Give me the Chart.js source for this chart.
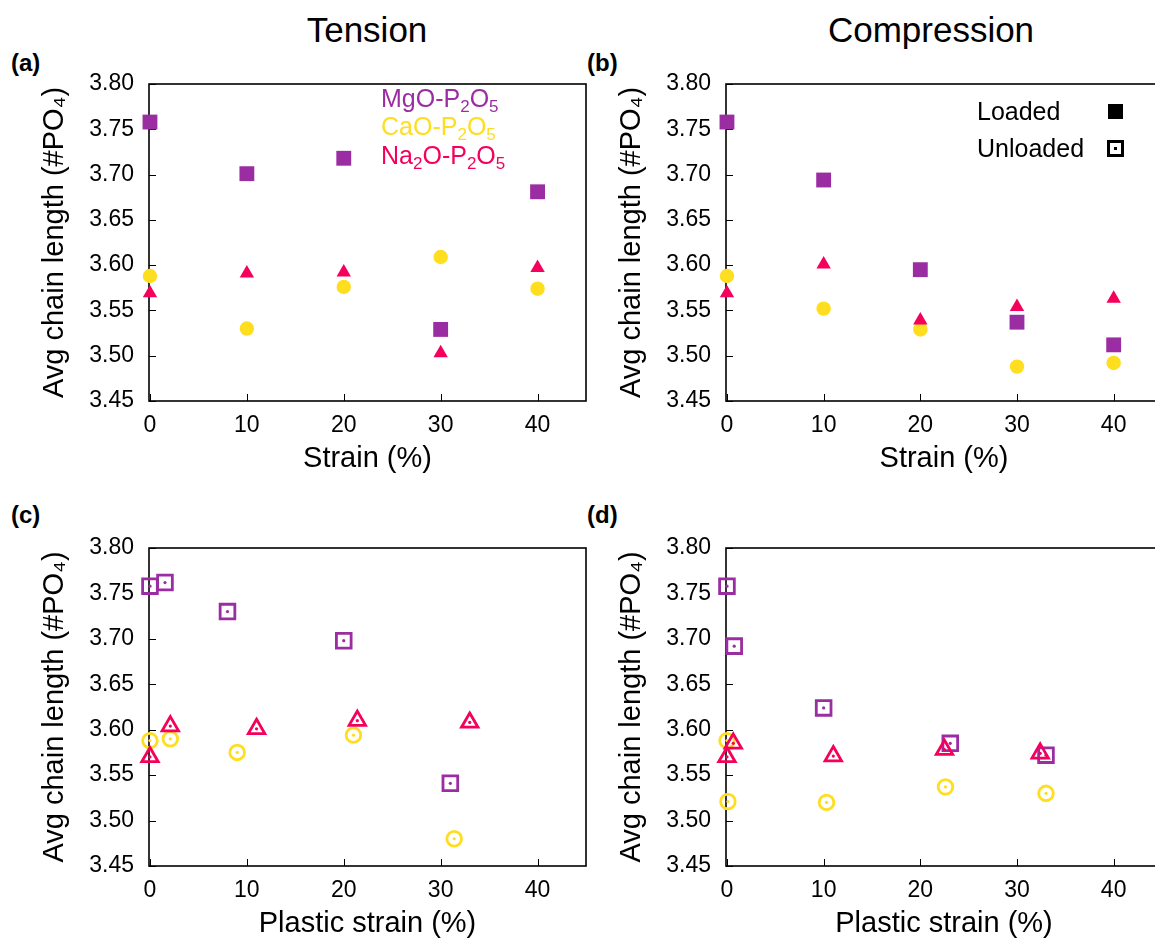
<!DOCTYPE html>
<html>
<head>
<meta charset="utf-8">
<title>Avg chain length - tension / compression</title>
<script src="https://cdn.jsdelivr.net/npm/chart.js@4.4.0/dist/chart.umd.min.js"></script>
<style>
  html, body { margin: 0; padding: 0; background: #fff; overflow: hidden; width: 1155px; height: 940px; }
  body { position: relative; font-family: "Liberation Sans", Arial, Helvetica, sans-serif; color: #000; }
  canvas { position: absolute; }
  .txt { position: absolute; white-space: nowrap; line-height: 1; }
  .txt sub { font-size: 0.68em; vertical-align: baseline; position: relative; top: 0.3em; }
  .head { font-size: 35px; transform: translateX(-50%); }
  .tag { font-size: 24px; font-weight: bold; }
  .leg { font-size: 25px; }
  .key { font-size: 25px; }
  .mark { position: absolute; box-sizing: border-box; }
</style>
</head>
<body>
  <div class="txt head" style="left:367px; top:12px;">Tension</div>
  <div class="txt head" style="left:931px; top:12px;">Compression</div>

  <div class="txt tag" style="left:11px; top:51px;">(a)</div>
  <div class="txt tag" style="left:587px; top:51px;">(b)</div>
  <div class="txt tag" style="left:11px; top:503px;">(c)</div>
  <div class="txt tag" style="left:587px; top:503px;">(d)</div>

  <canvas id="pa" width="600" height="440" style="left:0; top:50px;"></canvas>
  <canvas id="pb" width="600" height="440" style="left:600px; top:50px;"></canvas>
  <canvas id="pc" width="600" height="440" style="left:0; top:510px;"></canvas>
  <canvas id="pd" width="600" height="440" style="left:600px; top:510px;"></canvas>

  <div class="txt leg" style="left:381px; top:86px; color:#9b2da3;">MgO-P<sub>2</sub>O<sub>5</sub></div>
  <div class="txt leg" style="left:381px; top:114px; color:#ffdd1f;">CaO-P<sub>2</sub>O<sub>5</sub></div>
  <div class="txt leg" style="left:381px; top:143px; color:#f5005b;">Na<sub>2</sub>O-P<sub>2</sub>O<sub>5</sub></div>

  <div class="txt key" style="left:977px; top:99px;">Loaded</div>
  <div class="txt key" style="left:977px; top:136px;">Unloaded</div>
  <div class="mark" style="left:1108px; top:104px; width:15px; height:15px; background:#000;"></div>
  <div class="mark" style="left:1107px; top:140px; width:17px; height:17px; border:3px solid #000;"></div>
  <div class="mark" style="left:1114px; top:147px; width:3px; height:3px; background:#000;"></div>

<script>
// axes
const xTicks = [0, 10, 20, 30, 40];
const xTickLabels = ['0', '10', '20', '30', '40'];
const yTicks = [3.45, 3.50, 3.55, 3.60, 3.65, 3.70, 3.75, 3.80];
const yTickLabels = ['3.45', '3.50', '3.55', '3.60', '3.65', '3.70', '3.75', '3.80'];

// loaded: strain (%)
const strain = [0, 10, 20, 30, 40];
const tensMgO = [3.758, 3.701, 3.718, 3.529, 3.681];
const tensCaO = [3.588, 3.530, 3.576, 3.609, 3.574];
const tensNa  = [3.569, 3.591, 3.592, 3.503, 3.597];
const compMgO = [3.758, 3.694, 3.595, 3.537, 3.512];
const compCaO = [3.588, 3.552, 3.529, 3.488, 3.492];
const compNa  = [3.569, 3.601, 3.539, 3.554, 3.563];

// unloaded: plastic strain (%) per series
const tensUnMgOx = [0, 1.55, 8.0, 20.0, 31.0];
const tensUnMgO  = [3.758, 3.762, 3.730, 3.698, 3.541];
const tensUnCaOx = [0, 2.1, 9.0, 21.0, 31.4];
const tensUnCaO  = [3.588, 3.590, 3.575, 3.594, 3.480];
const tensUnNax  = [0, 2.1, 11.0, 21.4, 33.0];
const tensUnNa   = [3.570, 3.604, 3.601, 3.610, 3.608];

const compUnMgOx = [0, 0.75, 10.0, 23.1, 33.0];
const compUnMgO  = [3.758, 3.692, 3.624, 3.585, 3.572];
const compUnCaOx = [0, 0.1, 10.3, 22.6, 33.0];
const compUnCaO  = [3.588, 3.521, 3.520, 3.537, 3.530];
const compUnNax  = [0, 0.65, 11.0, 22.5, 32.4];
const compUnNa   = [3.570, 3.585, 3.571, 3.578, 3.574];

const cMgO = '#9b2da3';
const cCaO = '#ffdd1f';
const cNa  = '#f5005b';

const FONT = '"Liberation Sans", Arial, Helvetica, sans-serif';
Chart.defaults.font.family = FONT;
Chart.defaults.color = '#000';

function pts(xs, ys) {
  return xs.map((x, i) => ({ x: x, y: ys[i] }));
}

function filled(xs, ys, color, style, r) {
  return { data: pts(xs, ys), pointStyle: style, pointRadius: r, pointHoverRadius: r,
           backgroundColor: color, borderWidth: 0, clip: false };
}

function hollow(xs, ys, color, style, r) {
  const d = pts(xs, ys);
  return [
    { data: d, pointStyle: style, pointRadius: r, pointHoverRadius: r,
      backgroundColor: 'rgba(0,0,0,0)', borderColor: color, borderWidth: 2.8, clip: false },
    { data: d, pointStyle: 'circle', pointRadius: 1.6, pointHoverRadius: 1.6,
      backgroundColor: color, borderWidth: 0, clip: false }
  ];
}

// box round the plot plus inward ticks on left and bottom
const frame = {
  id: 'frame',
  beforeDatasetsDraw(chart) {
    const { ctx, chartArea: a, scales: { x, y } } = chart;
    ctx.save();
    ctx.strokeStyle = '#000';
    ctx.lineWidth = 1;
    ctx.beginPath();
    xTicks.forEach(v => {
      const px = Math.round(x.getPixelForValue(v)) + 0.5;
      ctx.moveTo(px, a.bottom);
      ctx.lineTo(px, a.bottom - 7);
    });
    yTicks.forEach(v => {
      const py = Math.round(y.getPixelForValue(v)) + 0.5;
      ctx.moveTo(a.left, py);
      ctx.lineTo(a.left + 7, py);
    });
    ctx.stroke();
    ctx.lineWidth = 1.6;
    ctx.strokeRect(a.left, a.top, a.right - a.left, a.bottom - a.top);
    ctx.restore();
  }
};

function panel(id, area, xTitle, datasets) {
  const cv = document.getElementById(id);
  const cl = cv.offsetLeft, ct = cv.offsetTop, W = cv.width, H = cv.height;
  const titleSize = 29, lh = titleSize * 1.2;
  new Chart(cv, {
    type: 'scatter',
    data: { datasets: datasets },
    options: {
      responsive: false,
      animation: false,
      layout: { padding: { left: 0, top: area.top - ct, right: cl + W - area.right, bottom: 0 } },
      plugins: { legend: { display: false }, tooltip: { enabled: false } },
      events: [],
      scales: {
        x: {
          type: 'linear', min: -0.1, max: 45,
          afterBuildTicks: s => { s.ticks = xTicks.map(v => ({ value: v })); },
          afterFit: s => { s.height = ct + H - area.bottom; },
          grid: { display: false, drawTicks: false },
          border: { display: false },
          ticks: { font: { size: 23 }, padding: 11, maxRotation: 0,
                   callback: (v, i) => xTickLabels[i] },
          title: { display: true, text: xTitle, font: { size: titleSize },
                   padding: { top: 0, bottom: (ct + H) - (area.bottom + 58) - lh / 2 } }
        },
        y: {
          type: 'linear', min: 3.45, max: 3.80,
          afterBuildTicks: s => { s.ticks = yTicks.map(v => ({ value: v })); },
          afterFit: s => { s.width = area.left - cl; },
          grid: { display: false, drawTicks: false },
          border: { display: false },
          ticks: { font: { size: 23 }, padding: 15,
                   callback: (v, i) => yTickLabels[i] },
          title: { display: true, text: 'Avg chain length (#PO\u2084)', font: { size: titleSize },
                   padding: { top: (area.left - 94) - cl - lh / 2, bottom: 0 } }
        }
      }
    },
    plugins: [frame]
  });
}

panel('pa', { left: 149, top: 84, right: 586, bottom: 401 }, 'Strain (%)', [
  filled(strain, tensNa, cNa, 'triangle', 8.3),
  filled(strain, tensMgO, cMgO, 'rect', 10.5),
  filled(strain, tensCaO, cCaO, 'circle', 7.2)
]);

panel('pb', { left: 726, top: 84, right: 1162, bottom: 401 }, 'Strain (%)', [
  filled(strain, compNa, cNa, 'triangle', 8.3),
  filled(strain, compMgO, cMgO, 'rect', 10.5),
  filled(strain, compCaO, cCaO, 'circle', 7.2)
]);

panel('pc', { left: 149, top: 548, right: 586, bottom: 866 }, 'Plastic strain (%)', [
  ...hollow(tensUnNax, tensUnNa, cNa, 'triangle', 9.5),
  ...hollow(tensUnMgOx, tensUnMgO, cMgO, 'rect', 10.4),
  ...hollow(tensUnCaOx, tensUnCaO, cCaO, 'circle', 7.3)
]);

panel('pd', { left: 726, top: 548, right: 1162, bottom: 866 }, 'Plastic strain (%)', [
  ...hollow(compUnNax, compUnNa, cNa, 'triangle', 9.5),
  ...hollow(compUnMgOx, compUnMgO, cMgO, 'rect', 10.4),
  ...hollow(compUnCaOx, compUnCaO, cCaO, 'circle', 7.3)
]);
</script>
</body>
</html>
